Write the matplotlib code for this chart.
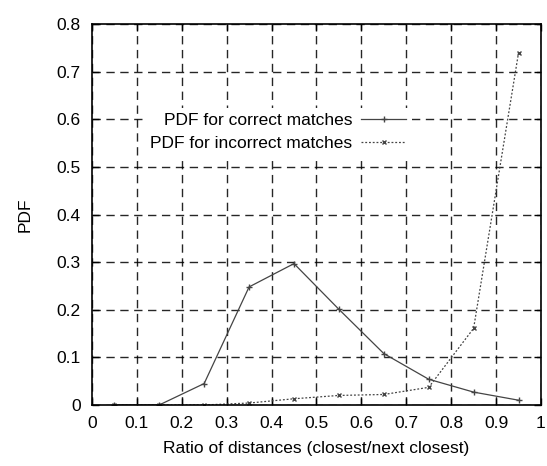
import numpy as np
import matplotlib
matplotlib.use("Agg")
import matplotlib.pyplot as plt

plt.rcParams['font.family'] = ['Liberation Sans', 'DejaVu Sans']

# bin centres of the distance ratio
ratio = [0.05, 0.15, 0.25, 0.35, 0.45, 0.55, 0.65, 0.75, 0.85, 0.95]
pdf_correct = [0.0, 0.0, 0.045, 0.248, 0.297, 0.201, 0.108, 0.054, 0.027, 0.010]
pdf_incorrect = [0.0, 0.0, 0.0, 0.004, 0.013, 0.020, 0.022, 0.037, 0.161, 0.740]

x_ticks = np.arange(0, 1.01, 0.1)
y_ticks = np.arange(0, 0.81, 0.1)

FS = 12.5


def main():
    fig = plt.figure(figsize=(5.47, 4.66), dpi=100)
    ax = fig.add_axes([0.168, 0.131, 0.821, 0.817])

    ax.plot(ratio, pdf_correct, color='#444444', lw=0.9, ls='-',
            marker='+', ms=4, mew=1.0, label='PDF for correct matches')
    ax.plot(ratio, pdf_incorrect, color='#444444', lw=0.9, ls=(0, (1.5, 1.5)),
            marker='x', ms=3.5, mew=1.0, label='PDF for incorrect matches')

    ax.set_xlim(0, 1)
    ax.set_ylim(0, 0.8)
    ax.set_xticks(x_ticks)
    ax.set_yticks(y_ticks)
    ax.set_xticklabels(['0'] + ['%.1f' % v for v in x_ticks[1:-1]] + ['1'])
    ax.set_yticklabels(['0'] + ['%.1f' % v for v in y_ticks[1:]])
    ax.tick_params(direction='in', length=5, width=1, labelsize=FS,
                   top=True, right=True, pad=8)
    ax.grid(True, color='black', ls=(0, (6, 4)), lw=1.0, alpha=0.85)
    for sp in ax.spines.values():
        sp.set_linewidth(1.2)

    ax.set_xlabel('Ratio of distances (closest/next closest)', fontsize=FS, labelpad=7)
    ax.set_ylabel('PDF', fontsize=FS, labelpad=17)

    leg = ax.legend(loc='upper right', bbox_to_anchor=(0.712, 0.78),
                    markerfirst=False, fontsize=FS, frameon=True,
                    handlelength=2.6, handletextpad=0.5, labelspacing=0.45,
                    borderpad=0.3, borderaxespad=0)
    leg.get_frame().set_edgecolor('none')
    leg.get_frame().set_facecolor('white')
    leg.get_frame().set_alpha(1)
    for t in leg.get_texts():
        t.set_ha('right')
    leg._legend_box.align = 'right'

    fig.savefig('out.png', dpi=100)


if __name__ == "__main__":
    main()
